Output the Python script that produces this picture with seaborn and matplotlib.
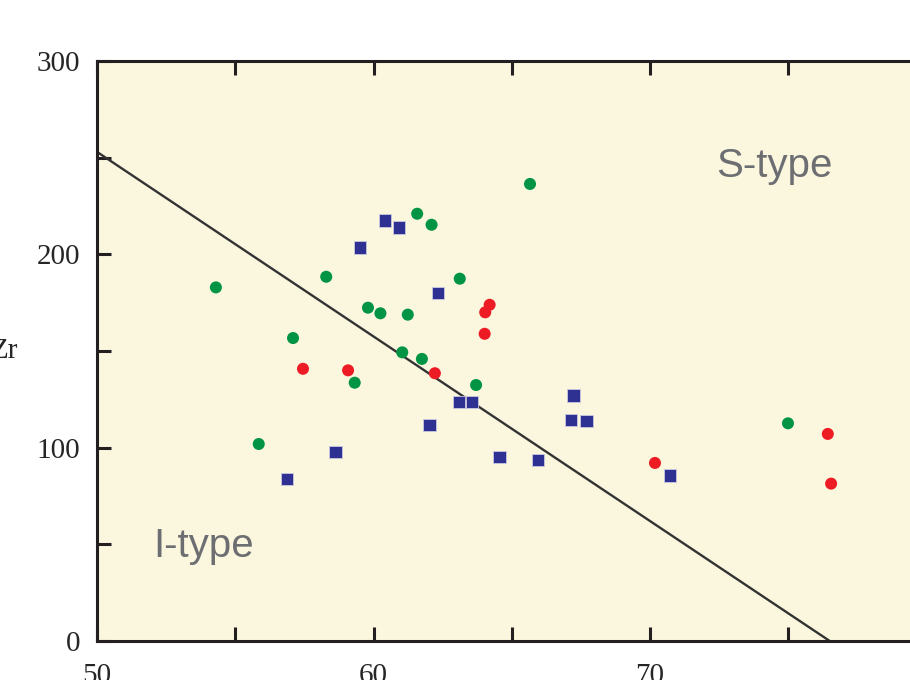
import numpy as np
import pandas as pd
import matplotlib
matplotlib.use("Agg")
import matplotlib.pyplot as plt
from matplotlib.ticker import MultipleLocator
import seaborn as sns

# --- data (SiO2 vs Zr) ---
green_x = [54.30, 55.85, 57.09, 58.29, 59.32, 59.80, 60.25, 61.24, 61.04, 61.58,
           61.75, 62.10, 63.12, 63.71, 65.66, 74.99]
green_y = [182.9, 101.9, 156.7, 188.4, 133.6, 172.4, 169.5, 168.8, 149.3, 221.0,
           145.9, 215.3, 187.4, 132.4, 236.4, 112.6]

red_x = [57.45, 59.08, 62.22, 64.02, 64.04, 64.20, 70.18, 76.43, 76.55]
red_y = [140.8, 140.0, 138.5, 158.9, 170.0, 173.9, 92.1, 107.1, 81.4]

blue_x = [56.87, 58.62, 59.51, 60.42, 60.93, 62.03, 62.34, 63.09, 63.56, 64.55,
          65.94, 67.23, 67.14, 67.71, 70.72]
blue_y = [83.8, 97.8, 203.6, 217.4, 213.8, 111.6, 180.0, 123.5, 123.5, 95.3,
          93.5, 126.9, 114.3, 113.9, 85.7]

# I-type / S-type boundary
line_x = [50, 76.5]
line_y = [253, 0]

df = pd.DataFrame({
    "SiO2": green_x + red_x + blue_x,
    "Zr": green_y + red_y + blue_y,
    "group": ["green"] * len(green_x) + ["red"] * len(red_x) + ["blue"] * len(blue_x),
})

palette = {"green": "#009444", "red": "#ED1C24", "blue": "#2E3192"}

sns.set_style("white")
plt.rcParams["font.family"] = ["Liberation Serif", "DejaVu Serif"]

fig = plt.figure(figsize=(9.1, 6.8), dpi=100)
ax = fig.add_axes([97 / 910, 39 / 680, 829.5 / 910, 580 / 680])
ax.set_facecolor("#FBF7DF")

ax.plot(line_x, line_y, color="#333333", linewidth=1.7, zorder=2)

circles = df[df["group"] != "blue"]
squares = df[df["group"] == "blue"]
sns.scatterplot(data=circles, x="SiO2", y="Zr", hue="group", palette=palette,
                marker="o", s=75, linewidth=0, legend=False, ax=ax, zorder=3)
sns.scatterplot(data=squares, x="SiO2", y="Zr", hue="group", palette=palette,
                marker="s", s=80, edgecolor="#c9c9e2", linewidth=0.6,
                legend=False, ax=ax, zorder=3)

ax.set_xlim(50, 80)
ax.set_ylim(0, 300)
ax.xaxis.set_major_locator(MultipleLocator(10))
ax.xaxis.set_minor_locator(MultipleLocator(5))
ax.yaxis.set_major_locator(MultipleLocator(100))
ax.yaxis.set_minor_locator(MultipleLocator(50))

for side in ["left", "bottom", "top", "right"]:
    ax.spines[side].set_linewidth(2.2)
    ax.spines[side].set_color("#231F20")

ax.tick_params(axis="both", which="both", direction="in", color="#231F20",
               width=2.2, length=10, bottom=True, left=True, top=True,
               right=False, labelsize=21)
ax.tick_params(axis="x", which="both", pad=16)
ax.tick_params(axis="y", which="both", pad=12)

ax.set_xlabel("")
ax.set_ylabel("Zr", fontsize=21, rotation=0, ha="right", va="center")
ax.yaxis.set_label_coords(-0.095, 0.5)

ax.text(74.5, 239.8, "S-type", fontsize=29, color="#6D6E71",
        family=["Liberation Sans", "DejaVu Sans"], ha="center", va="baseline")
ax.text(53.85, 43.6, "I-type", fontsize=29, color="#6D6E71",
        family=["Liberation Sans", "DejaVu Sans"], ha="center", va="baseline")

fig.savefig("out.png", dpi=100)
